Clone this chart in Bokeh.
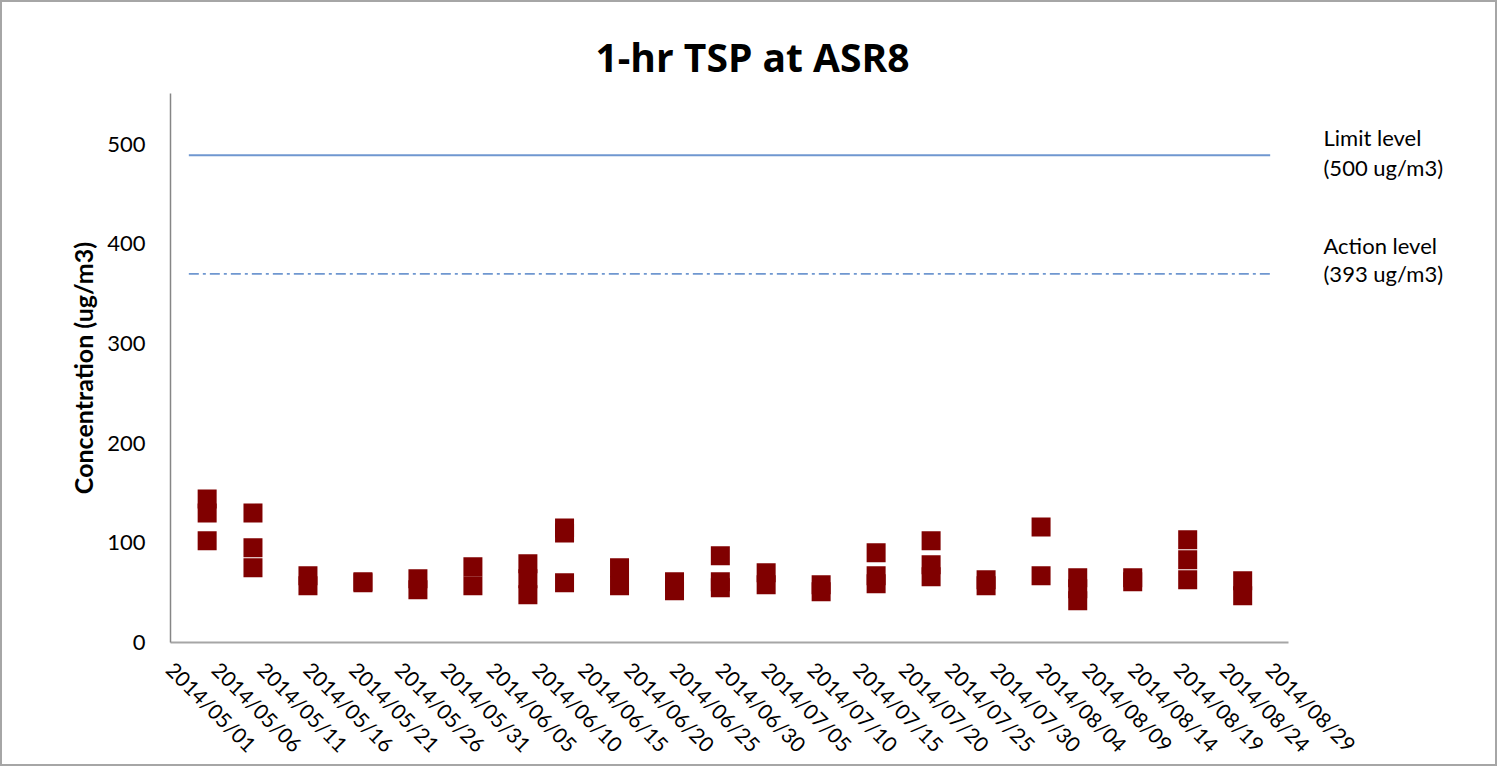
from datetime import datetime
from math import pi
from bokeh.plotting import figure
from bokeh.models import Range1d, FixedTicker, DatetimeTickFormatter, ColumnDataSource, LinearAxis
from bokeh.embed import file_html
from bokeh.resources import INLINE

# ---------------- data ----------------
sample_dates = [
    "2014-05-05", "2014-05-05", "2014-05-05",
    "2014-05-10", "2014-05-10", "2014-05-10",
    "2014-05-16", "2014-05-16",
    "2014-05-22", "2014-05-22",
    "2014-05-28", "2014-05-28",
    "2014-06-03", "2014-06-03",
    "2014-06-09", "2014-06-09", "2014-06-09",
    "2014-06-13", "2014-06-13", "2014-06-13",
    "2014-06-19", "2014-06-19",
    "2014-06-25", "2014-06-25",
    "2014-06-30", "2014-06-30", "2014-06-30",
    "2014-07-05", "2014-07-05",
    "2014-07-11", "2014-07-11",
    "2014-07-17", "2014-07-17", "2014-07-17",
    "2014-07-23", "2014-07-23", "2014-07-23",
    "2014-07-29", "2014-07-29",
    "2014-08-04", "2014-08-04",
    "2014-08-08", "2014-08-08", "2014-08-08",
    "2014-08-14", "2014-08-14",
    "2014-08-20", "2014-08-20", "2014-08-20",
    "2014-08-26", "2014-08-26",
]
tsp_values = [
    144, 130, 102,
    130, 95, 75,
    67, 57,
    61, 60,
    64, 53,
    76, 57,
    79, 64, 48,
    115, 110, 60,
    75, 57,
    61, 52,
    87, 61, 55,
    70, 58,
    58, 51,
    90, 67, 59,
    102, 78, 66,
    63, 57,
    116, 67,
    65, 54, 42,
    65, 61,
    103, 83, 63,
    62, 47,
]
level_dates = ["2014-05-03", "2014-08-29"]
limit_level = [489, 489]
action_level = [370, 370]
tick_labels = ["2014/05/01", "2014/05/06", "2014/05/11", "2014/05/16", "2014/05/21",
               "2014/05/26", "2014/05/31", "2014/06/05", "2014/06/10", "2014/06/15",
               "2014/06/20", "2014/06/25", "2014/06/30", "2014/07/05", "2014/07/10",
               "2014/07/15", "2014/07/20", "2014/07/25", "2014/07/30", "2014/08/04",
               "2014/08/09", "2014/08/14", "2014/08/19", "2014/08/24", "2014/08/29"]
y_ticks = [0, 100, 200, 300, 400, 500]
x_end = "2014/08/31"
title_text = "1-hr TSP at ASR8"
y_title = "Concentration (ug/m3)"
level_texts = ["Limit level", "(500 ug/m3)", "Action level", "(393  ug/m3)"]
level_text_y = [507, 477, 398, 370]

EPOCH = datetime(1970, 1, 1)


def ms(d, fmt):
    return (datetime.strptime(d, fmt) - EPOCH).total_seconds() * 1000.0


FONT = "Lato"

p = figure(width=1497, height=766, output_backend="svg", toolbar_location=None,
           x_axis_type="datetime",
           x_range=Range1d(ms(tick_labels[0], "%Y/%m/%d"), ms(x_end, "%Y/%m/%d")),
           y_range=Range1d(0, 551),
           min_border_left=168, min_border_right=211, min_border_top=91, min_border_bottom=124)
p.styles = {"border": "2px solid #a6a6a6"}
p.background_fill_color = "white"
p.border_fill_color = "white"
p.outline_line_color = None
p.xgrid.visible = False
p.ygrid.visible = False

p.title.text = title_text
p.title.text_font = "Open Sans"
p.title.text_font_size = "39px"
p.title.text_font_style = "bold"
p.title.text_color = "black"
p.title.align = "left"
p.title.offset = 425
p.title.standoff = 21

# x axis
xa = p.xaxis[0]
xa.ticker = FixedTicker(ticks=[ms(t, "%Y/%m/%d") for t in tick_labels])
fmt = "%Y/%m/%d"
xa.formatter = DatetimeTickFormatter(microseconds=fmt, milliseconds=fmt, seconds=fmt,
                                     minsec=fmt, minutes=fmt, hourmin=fmt, hours=fmt,
                                     days=fmt, months=fmt, years=fmt)
xa.major_label_orientation = -pi / 4
xa.major_label_text_font = FONT
xa.major_label_text_font_size = "21px"
xa.major_label_text_color = "black"
xa.major_tick_line_color = None
xa.minor_tick_line_color = None
xa.major_tick_out = 0
xa.major_tick_in = 0
xa.major_label_standoff = 23
xa.axis_line_color = "#a6a6a6"
xa.axis_line_width = 2

# y axis
ya = p.yaxis[0]
ya.ticker = FixedTicker(ticks=y_ticks)
ya.major_label_text_font = FONT
ya.major_label_text_font_size = "22px"
ya.major_label_text_color = "black"
ya.major_tick_line_color = None
ya.minor_tick_line_color = None
ya.major_tick_out = 0
ya.major_tick_in = 0
ya.major_label_standoff = 25
ya.axis_line_color = "#868686"
ya.axis_line_width = 1.5
ya.axis_label = y_title
ya.axis_label_text_font = FONT
ya.axis_label_text_font_size = "25px"
ya.axis_label_text_font_style = "bold"
ya.axis_label_text_color = "black"
ya.axis_label_standoff = 6

# right-hand texts naming the two levels
ra = LinearAxis(ticker=FixedTicker(ticks=level_text_y),
                major_label_overrides={y: t for y, t in zip(level_text_y, level_texts)})
ra.axis_line_color = None
ra.major_tick_line_color = None
ra.minor_tick_line_color = None
ra.major_tick_out = 0
ra.major_tick_in = 0
ra.major_label_standoff = 35
ra.major_label_text_font = FONT
ra.major_label_text_font_size = "22px"
ra.major_label_text_color = "black"
p.add_layout(ra, "right")

# level lines
lx = [ms(d, "%Y-%m-%d") for d in level_dates]
p.line(lx, limit_level, line_color="#6f97d0", line_width=2.2)
p.line(lx, action_level, line_color="#6f97d0", line_width=1.6, line_dash="10 4 3 4")

# samples
src = ColumnDataSource(dict(x=[ms(d, "%Y-%m-%d") for d in sample_dates], y=tsp_values))
p.scatter("x", "y", source=src, marker="square", size=19,
          fill_color="#800000", line_color=None)

open("out.html", "w").write(file_html(p, INLINE))
